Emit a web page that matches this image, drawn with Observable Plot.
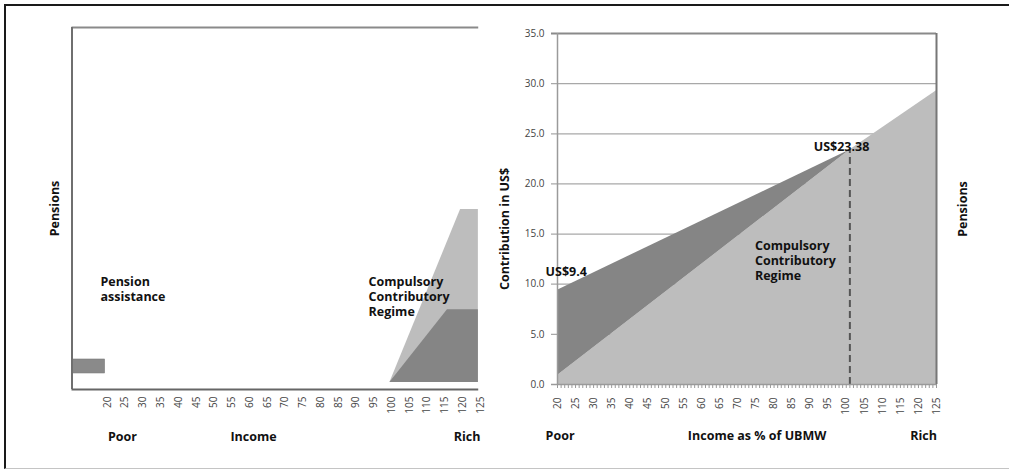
<!DOCTYPE html>
<html>
<head>
<meta charset="utf-8">
<script src="https://cdn.jsdelivr.net/npm/d3@7"></script>
<script src="https://cdn.jsdelivr.net/npm/@observablehq/plot@0.6"></script>
<style>
  html, body { margin: 0; padding: 0; background: #fff; }
  #wrap { position: relative; width: 1009px; height: 472px; overflow: hidden; background: #fff; }
  #border { position: absolute; left: 4px; top: 4px; width: 1005px; height: 465px;
            border-top: 2px solid #1a1a1a; border-left: 2px solid #1a1a1a; border-bottom: 1.5px solid #c4c4c4;
            box-sizing: border-box; pointer-events: none; z-index: 5; }
  .panel { position: absolute; top: 0; }
  #left { left: 0; }
  #right { left: 490px; }
</style>
</head>
<body>
<div id="wrap">
  <div id="left" class="panel"></div>
  <div id="right" class="panel"></div>
  <div id="border"></div>
</div>
<script>
// ---- Data ----
const xTickLabels = [20, 25, 30, 35, 40, 45, 50, 55, 60, 65, 70, 75, 80, 85, 90, 95, 100, 105, 110, 115, 120, 125];
const yTickLabels = [0, 5, 10, 15, 20, 25, 30, 35];

// Right panel: contribution in US$ by income (% of UBMW)
const rightIncome = [20, 101, 125];
const rightRegime = [0.9, 23.38, 29.3];          // compulsory contributory regime (light)
const rightTopIncome = [20, 101];
const rightTotal = [9.4, 23.38];                   // total contribution (dark band top)
const thresholdIncome = 101;
const thresholdValue = 23.38;
const startValue = 9.4;

// Left panel: schematic pensions by income
const assistIncome = [10, 19.3];
const assistPension = [1.55, 2.9];
const regimeLightIncome = [99.5, 119.4, 124.4];
const regimeLightPension = [0.68, 17.4, 17.4];
const regimeDarkIncome = [99.5, 115.7, 124.4];
const regimeDarkPension = [0.68, 7.7, 7.7];
const regimeBase = 0.68;

// ---- Styles ----
const LIGHT = "#bdbdbd";
const DARK = "#858585";
const FONT = "'Open Sans', 'DejaVu Sans', sans-serif";
const BOLD = {fontFamily: FONT, fontWeight: "bold", fontSize: 12.5, fill: "#111"};

// ---- Left panel ----
const lightL = regimeLightIncome.map((x, i) => ({x, y1: regimeBase, y2: regimeLightPension[i]}));
const darkL = regimeDarkIncome.map((x, i) => ({x, y1: regimeBase, y2: regimeDarkPension[i]}));

const left = Plot.plot({
  width: 490, height: 472,
  marginLeft: 71.5, marginRight: 10, marginTop: 27, marginBottom: 83,
  style: {background: "transparent", fontFamily: FONT, fontSize: "10px", color: "#444"},
  x: {domain: [10, 125], ticks: xTickLabels, tickRotate: -90, tickSize: 0, tickPadding: 7, label: null},
  y: {domain: [0, 35], axis: null},
  marks: [
    Plot.areaY(lightL, {x: "x", y1: "y1", y2: "y2", fill: LIGHT}),
    Plot.areaY(darkL, {x: "x", y1: "y1", y2: "y2", fill: DARK}),
    Plot.rect([{x1: assistIncome[0], x2: assistIncome[1], y1: assistPension[0], y2: assistPension[1]}],
      {x1: "x1", x2: "x2", y1: "y1", y2: "y2", fill: "#8a8a8a", stroke: "#7a7a7a", strokeWidth: 0.6}),
    // frame lines
    Plot.ruleY([35], {x1: 10, x2: 124.5, stroke: "#8a8a8a", strokeWidth: 2}),
    Plot.ruleX([10], {y1: 0, y2: 35, stroke: "#6f6f6f", strokeWidth: 2}),
    Plot.ruleY([0], {x1: 10, x2: 124.5, stroke: "#666", strokeWidth: 2}),
    // labels
    Plot.text(["Pension\nassistance"], {x: 18, y: 11.0, text: d => d, textAnchor: "start", lineAnchor: "top", lineHeight: 1.2, ...BOLD}),
    Plot.text(["Compulsory\nContributory\nRegime"], {x: 93.5, y: 11.0, text: d => d, textAnchor: "start", lineAnchor: "top", lineHeight: 1.2, ...BOLD}),
    Plot.text(["Pensions"], {frameAnchor: "left", dx: -17, rotate: -90, textAnchor: "middle", text: d => d, ...BOLD}),
    Plot.text(["Poor"], {x: 20.1, frameAnchor: "bottom", dy: 51, textAnchor: "start", text: d => d, ...BOLD}),
    Plot.text(["Income"], {x: 61.1, frameAnchor: "bottom", dy: 51, text: d => d, ...BOLD}),
    Plot.text(["Rich"], {x: 125, frameAnchor: "bottom", dy: 51, textAnchor: "end", text: d => d, ...BOLD})
  ]
});
document.getElementById("left").appendChild(left);

// ---- Right panel ----
const lightR = rightIncome.map((x, i) => ({x, y1: 0, y2: rightRegime[i]}));
const darkR = rightTopIncome.map((x, i) => ({x, y1: rightRegime[i], y2: rightTotal[i]}));
const minorTicks = d3.range(20, 126, 1);
const gridVals = yTickLabels.filter(v => v > 0 && v < 35);

const right = Plot.plot({
  width: 519, height: 472,
  marginLeft: 67, marginRight: 73, marginTop: 33, marginBottom: 88,
  style: {background: "transparent", fontFamily: FONT, fontSize: "10px", color: "#444"},
  x: {domain: [20, 125], ticks: xTickLabels, tickRotate: -90, tickSize: 0, tickPadding: 13, label: null},
  y: {domain: [0, 35], ticks: yTickLabels, tickFormat: d => d.toFixed(1), tickSize: 0, tickPadding: 13, label: null},
  marks: [
    Plot.ruleY(gridVals, {stroke: "#a8a8a8", strokeWidth: 1.2, insetLeft: -6}),
    Plot.areaY(lightR, {x: "x", y1: "y1", y2: "y2", fill: LIGHT}),
    Plot.areaY(darkR, {x: "x", y1: "y1", y2: "y2", fill: DARK}),
    Plot.ruleX([thresholdIncome], {y1: 0, y2: thresholdValue, stroke: "#555", strokeWidth: 2, strokeDasharray: "7,4"}),
    // frame
    Plot.ruleY([35], {stroke: "#8a8a8a", strokeWidth: 2, insetLeft: -6}),
    Plot.ruleX([20], {y1: 0, y2: 35, stroke: "#9a9a9a", strokeWidth: 1.5}),
    Plot.ruleX([125], {y1: 0, y2: 35, stroke: "#777", strokeWidth: 2}),
    Plot.ruleY([0], {stroke: "#9a9a9a", strokeWidth: 1.5, insetLeft: -6}),
    Plot.ruleX(minorTicks, {y1: 0, y2: -0.4, stroke: "#999", strokeWidth: 1}),
    // labels
    Plot.text(["US$23.38"], {x: 106.4, y: 23.65, textAnchor: "end", text: d => d, ...BOLD}),
    Plot.text(["US$" + startValue], {x: 16.7, y: 11.2, textAnchor: "start", text: d => d, ...BOLD}),
    Plot.text(["Compulsory\nContributory\nRegime"], {x: 74.7, y: 14.5, text: d => d, textAnchor: "start", lineAnchor: "top", lineHeight: 1.22, ...BOLD}),
    Plot.text(["Contribution in US$"], {frameAnchor: "left", dx: -53, dy: 20, rotate: -90, textAnchor: "middle", text: d => d, ...BOLD}),
    Plot.text(["Pensions"], {frameAnchor: "right", dx: 26, rotate: -90, textAnchor: "middle", text: d => d, ...BOLD}),
    Plot.text(["Poor"], {x: 16.7, frameAnchor: "bottom", dy: 55, textAnchor: "start", text: d => d, ...BOLD}),
    Plot.text(["Income as % of UBMW"], {x: 75.3, frameAnchor: "bottom", dy: 55, text: d => d, ...BOLD}),
    Plot.text(["Rich"], {x: 121.4, frameAnchor: "bottom", dy: 55, text: d => d, ...BOLD})
  ]
});
document.getElementById("right").appendChild(right);
</script>
</body>
</html>
